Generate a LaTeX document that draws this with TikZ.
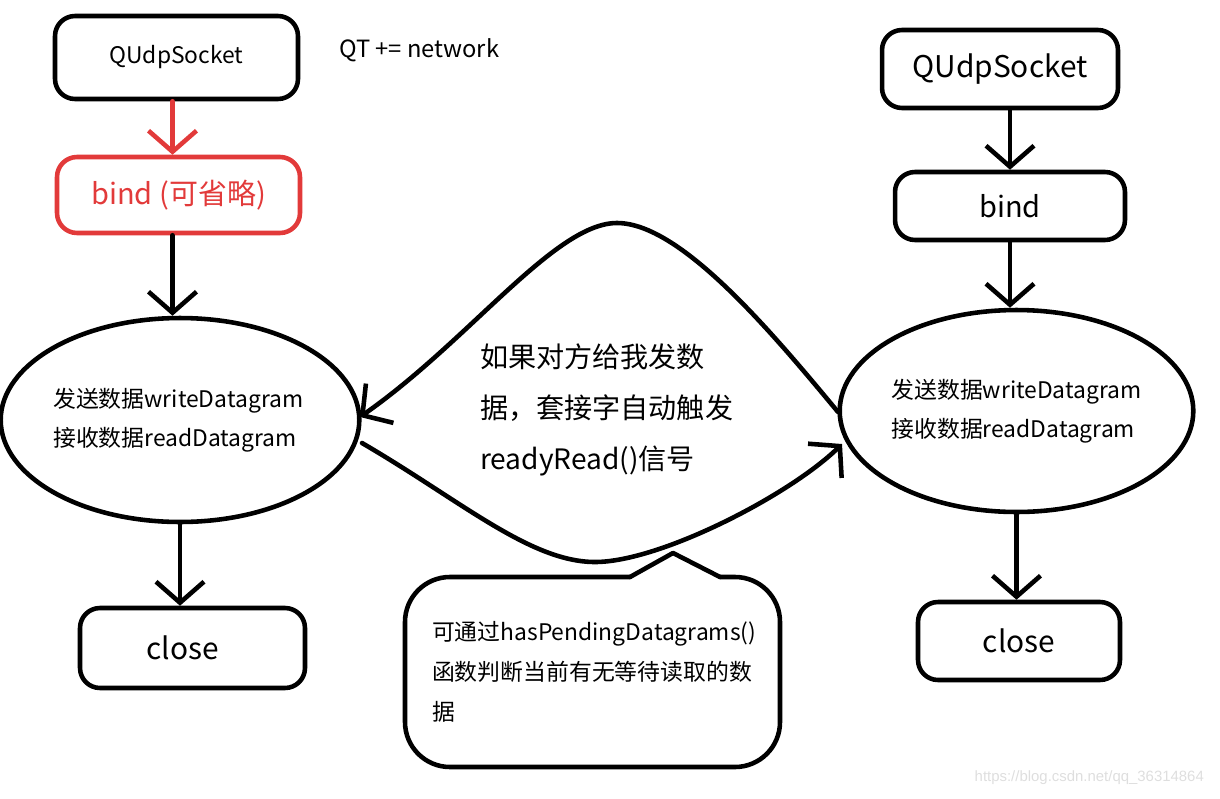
\documentclass[tikz,border=0pt]{standalone}
\usepackage{fontspec}
\setmainfont{Noto Sans CJK SC}
\newfontfamily\wmfont{Liberation Sans}
\usetikzlibrary{arrows.meta,shapes.geometric,calc}
\definecolor{myred}{RGB}{226,58,58}
\definecolor{wmgray}{RGB}{222,222,222}
\newcommand\myfs[1]{\fontsize{#1}{#1}\selectfont}
\begin{document}
\begin{tikzpicture}[x=0.02cm,y=-0.02cm,
  line width=2.6pt, line join=round, line cap=round,
  box/.style={draw, rounded corners=0.4cm, inner sep=0pt},
  ell/.style={draw, ellipse, inner sep=0pt, align=left},
  arr/.style={-{Straight Barb[length=0.42cm,width=0.96cm]}}]
\useasboundingbox (0,0) rectangle (1220,798);

% left column
\node[box, minimum width=4.86cm, minimum height=1.66cm, font=\myfs{13}] (q1) at (176.5,57.5) {QUdpSocket};
\node[box, draw=myred, text=myred, minimum width=4.86cm, minimum height=1.52cm, font=\myfs{16.5}] (b1) at (178.5,195) {bind (可省略)};
\node[ell, minimum width=6.72cm, minimum height=4.08cm, font=\fontsize{13}{22.5}\selectfont] (e1) at (180,420) {发送数据writeDatagram\\接收数据readDatagram\hspace*{0.2cm}};
\node[box, minimum width=4.5cm, minimum height=1.6cm, font=\myfs{17}] (c1) at (192.5,648) {close\hspace*{0.4cm}};

\coordinate (l1) at ($(q1.south)+(-4,0)$);
\draw[arr, myred] (l1) -- (l1 |- b1.north);
\draw[arr] (l1 |- b1.south) -- (l1 |- e1.north);
\draw[arr] (e1.south) -- (e1.south |- c1.north);

\node[anchor=west, font=\myfs{13.5}] (qt) at (331,50) {QT += network};

% right column
\node[box, minimum width=4.72cm, minimum height=1.56cm, font=\myfs{17}] (q2) at (1000,69) {QUdpSocket};
\node[box, minimum width=4.6cm, minimum height=1.36cm, font=\myfs{16.5}] (b2) at (1010,206) {bind};
\node[ell, minimum width=6.74cm, minimum height=4.04cm, font=\fontsize{13}{22.5}\selectfont] (e2) at (1016.5,411) {发送数据writeDatagram\\接收数据readDatagram\hspace*{0.1cm}};
\node[box, minimum width=4.04cm, minimum height=1.56cm, font=\myfs{17}] (c2) at (1019,641) {close};

\draw[arr] (q2.south -| b2.north) -- (b2.north);
\draw[arr] (b2.south) -- (b2.south |- e2.north);
\draw[arr] (e2.south) -- (e2.south |- c2.north);

% middle curved connectors
\coordinate (ua) at (838,412);
\coordinate (ub) at (360,417);
\coordinate (la) at (362,443);
\coordinate (lb) at (842,444);
\draw[arr] (ua) .. controls (770,330) and (680,223) .. (617,223) .. controls (555,223) and (470,340) .. (ub);
\draw[arr] (la) .. controls (460,500) and (530,562) .. (595,562) .. controls (660,562) and (790,495) .. (lb);

\node[anchor=west, align=left, font=\fontsize{16}{29}\selectfont] (mid) at (472,410) {如果对方给我发数\\据，套接字自动触发\\readyRead()信号};

% callout
\draw[rounded corners=0.9cm] (630,577) -- (405,577) -- (405,767) -- (780,767) -- (780,577) -- (720,577);
\draw (630,577) -- (673,553) -- (720,577);
\node[anchor=west, align=left, font=\fontsize{13}{22.7}\selectfont] (ct) at (424,672) {可通过hasPendingDatagrams()\\函数判断当前有无等待读取的数\\据};

% watermark
\node[anchor=east, text=wmgray, font=\wmfont\fontsize{8.5}{8.5}\selectfont] (wmk) at (1212,778) {https://blog.csdn.net/qq\_36314864};
\end{tikzpicture}
\end{document}
